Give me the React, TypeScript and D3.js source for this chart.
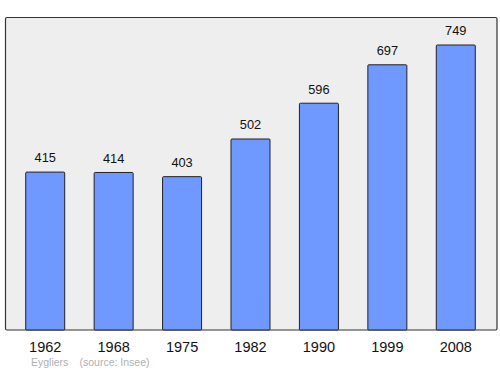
import React from "react";
import * as d3 from "d3";

const years = ["1962", "1968", "1975", "1982", "1990", "1999", "2008"];
const population = [415, 414, 403, 502, 596, 697, 749];
const placeLabel = "Eygliers";
const sourceLabel = "(source: Insee)";

export default function App() {
  const W = 500, H = 374;
  const frame = { x0: 5.5, y0: 17.5, x1: 497, y1: 330 };
  const x = d3.scaleBand<string>().domain(years).range([11, 490]).paddingInner(0.43).paddingOuter(0.215);
  const y = d3.scaleLinear().domain([0, 749]).range([frame.y1, 45]);
  const font = "'Liberation Sans', Arial, sans-serif";
  return (
    <svg width={W} height={H} style={{ position: "absolute", left: 0, top: 0 }}>
      <rect x={frame.x0} y={frame.y0} width={frame.x1 - frame.x0} height={frame.y1 - frame.y0} fill="#eeeeee" stroke="#333" strokeWidth={1.2} rx={1.5} />
      {years.map((yr, i) => {
        const v = population[i];
        const bx = x(yr)!;
        return (
          <g key={yr}>
            <rect x={bx} y={y(v)} width={x.bandwidth()} height={frame.y1 - y(v)} fill="#6f99ff" stroke="#222" strokeWidth={1} rx={1} />
            <text x={bx + x.bandwidth() / 2} y={y(v) - 9.6} textAnchor="middle" fontFamily={font} fontSize={12.8} fill="#111">{v}</text>
            <text x={bx + x.bandwidth() / 2} y={352.3} textAnchor="middle" fontFamily={font} fontSize={14.5} fill="#111">{yr}</text>
          </g>
        );
      })}
      <text x={31} y={366} fontFamily={font} fontSize={10.5} fill="#b0b0b0">{placeLabel}</text>
      <text x={79.5} y={366} fontFamily={font} fontSize={10.5} fill="#b0b0b0">{sourceLabel}</text>
    </svg>
  );
}
